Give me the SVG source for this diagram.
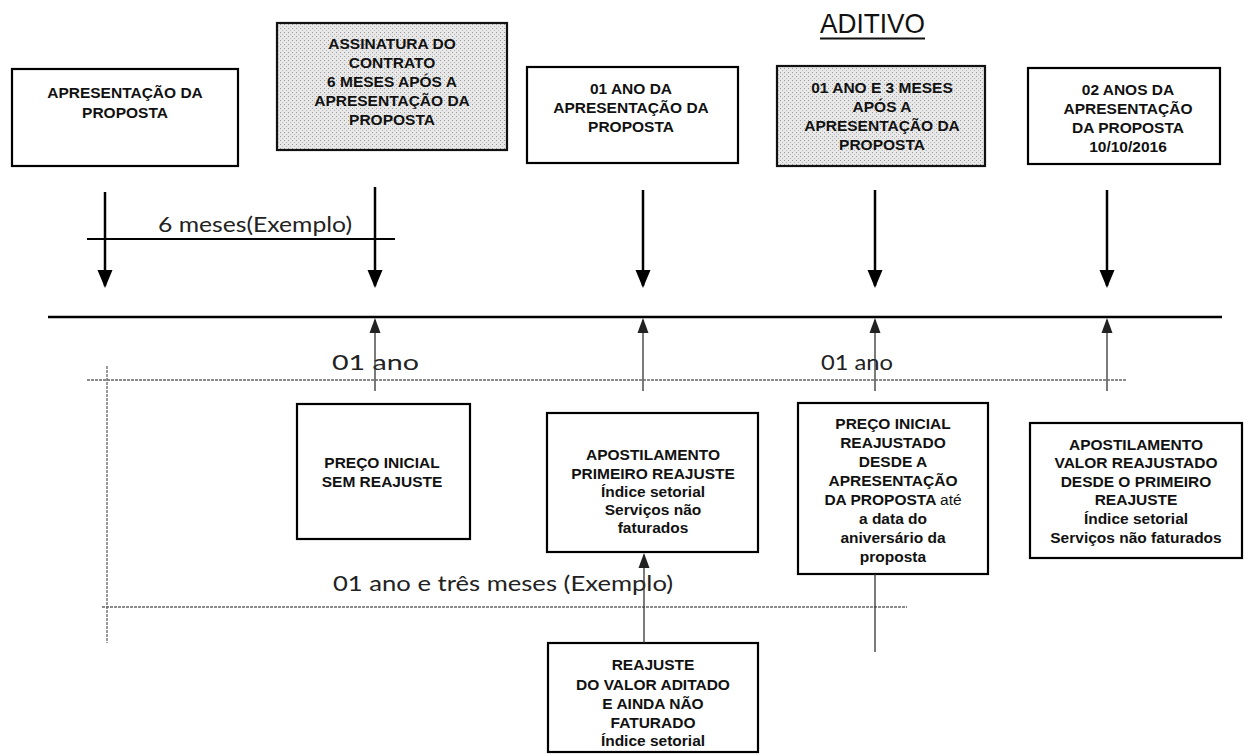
<svg xmlns="http://www.w3.org/2000/svg" width="1257" height="756" viewBox="0 0 1257 756">
<style>
.box{fill:#fff;stroke:#000;stroke-width:2.2}
.gbox{fill:url(#dots);stroke:#111;stroke-width:2.2}
.t{font-family:"Liberation Sans",Arial,sans-serif;font-size:15.5px;font-weight:bold;text-anchor:middle;fill:#111}
.n{font-weight:normal}
.lab{font-family:Lato,"Open Sans",sans-serif;font-size:21px;fill:#222}
.down{stroke:#000;stroke-width:2.5;fill:none;marker-end:url(#ahd)}
.up{stroke:#333;stroke-width:1.3;fill:none;marker-end:url(#ahu)}
.dash{stroke:#666;stroke-width:1.3;stroke-dasharray:3 1;fill:none}
.solid{stroke:#000;stroke-width:2.5;fill:none}
</style>
<defs>
<pattern id="dots" width="4" height="4" patternUnits="userSpaceOnUse">
<rect width="4" height="4" fill="#e8e8e8"/>
<rect x="0" y="0" width="1" height="1" fill="#999"/>
<rect x="2" y="2" width="1" height="1" fill="#b8b8b8"/>
</pattern>
<marker id="ahd" viewBox="0 -8 18 16" refX="16" refY="0" markerWidth="18" markerHeight="16" markerUnits="userSpaceOnUse" orient="auto">
<path d="M0,-7.5 L18,0 L0,7.5 z" fill="#000"/>
</marker>
<marker id="ahu" viewBox="0 -6 15 12" refX="13" refY="0" markerWidth="15" markerHeight="12" markerUnits="userSpaceOnUse" orient="auto">
<path d="M0,-5.5 L15,0 L0,5.5 z" fill="#222"/>
</marker>
</defs>
<rect width="1257" height="756" fill="#fff"/>

<g id="aditivo">
<text x="820" y="33" textLength="105" lengthAdjust="spacingAndGlyphs" style="font-family:'Liberation Sans',Arial,sans-serif;font-size:28px;fill:#111">ADITIVO</text>
<line x1="820" y1="38.5" x2="925" y2="38.5" stroke="#111" stroke-width="2"/>
</g>

<g id="n-apresentacao">
<rect class="box" x="12" y="69" width="226" height="97"/>
<text class="t" x="125" y="98">APRESENTAÇÃO DA</text>
<text class="t" x="125" y="118">PROPOSTA</text>
</g>

<g id="n-assinatura">
<rect class="gbox" x="277" y="23" width="230" height="127"/>
<text class="t" x="392" y="49">ASSINATURA DO</text>
<text class="t" x="392" y="68">CONTRATO</text>
<text class="t" x="392" y="87">6 MESES APÓS A</text>
<text class="t" x="392" y="106">APRESENTAÇÃO DA</text>
<text class="t" x="392" y="125">PROPOSTA</text>
</g>

<g id="n-01ano">
<rect class="box" x="527" y="67" width="211" height="96"/>
<text class="t" x="631" y="94">01 ANO DA</text>
<text class="t" x="631" y="113">APRESENTAÇÃO DA</text>
<text class="t" x="631" y="132">PROPOSTA</text>
</g>

<g id="n-01ano3m">
<rect class="gbox" x="777" y="66" width="208" height="100"/>
<text class="t" x="882" y="93">01 ANO E 3 MESES</text>
<text class="t" x="882" y="112">APÓS A</text>
<text class="t" x="882" y="131">APRESENTAÇÃO DA</text>
<text class="t" x="882" y="150">PROPOSTA</text>
</g>

<g id="n-02anos">
<rect class="box" x="1028" y="68" width="192" height="96"/>
<text class="t" x="1128" y="95">02 ANOS DA</text>
<text class="t" x="1128" y="114">APRESENTAÇÃO</text>
<text class="t" x="1128" y="133">DA PROPOSTA</text>
<text class="t" x="1128" y="152">10/10/2016</text>
</g>

<g id="n-preco-sem">
<rect class="box" x="297" y="404" width="173" height="135"/>
<text class="t" x="382" y="468">PREÇO INICIAL</text>
<text class="t" x="382" y="487">SEM REAJUSTE</text>
</g>

<g id="n-apost1">
<rect class="box" x="547" y="413" width="211" height="139"/>
<text class="t" x="653" y="460">APOSTILAMENTO</text>
<text class="t" x="653" y="479">PRIMEIRO REAJUSTE</text>
<text class="t" x="653" y="497">Índice setorial</text>
<text class="t" x="653" y="515">Serviços não</text>
<text class="t" x="653" y="533">faturados</text>
</g>

<g id="n-preco-reaj">
<rect class="box" x="798" y="403" width="190" height="171"/>
<text class="t" x="893" y="429">PREÇO INICIAL</text>
<text class="t" x="893" y="448">REAJUSTADO</text>
<text class="t" x="893" y="467">DESDE A</text>
<text class="t" x="893" y="486">APRESENTAÇÃO</text>
<text class="t" x="893" y="505">DA PROPOSTA <tspan class="n">até</tspan></text>
<text class="t" x="893" y="524">a data do</text>
<text class="t" x="893" y="543">aniversário da</text>
<text class="t" x="893" y="562">proposta</text>
</g>

<g id="n-apost2">
<rect class="box" x="1030" y="423" width="212" height="135"/>
<text class="t" x="1136" y="450">APOSTILAMENTO</text>
<text class="t" x="1136" y="468">VALOR REAJUSTADO</text>
<text class="t" x="1136" y="487">DESDE O PRIMEIRO</text>
<text class="t" x="1136" y="505">REAJUSTE</text>
<text class="t" x="1136" y="524">Índice setorial</text>
<text class="t" x="1136" y="543">Serviços não faturados</text>
</g>

<g id="n-reajuste-aditado">
<rect class="box" x="548" y="643" width="210" height="109"/>
<text class="t" x="653" y="670">REAJUSTE</text>
<text class="t" x="653" y="690">DO VALOR ADITADO</text>
<text class="t" x="653" y="709">E AINDA NÃO</text>
<text class="t" x="653" y="728">FATURADO</text>
<text class="t" x="653" y="746">Índice setorial</text>
</g>

<g id="labels">
<text class="lab" x="158" y="232" textLength="194" lengthAdjust="spacingAndGlyphs">6 meses(Exemplo)</text>
<text class="lab" x="332" y="370" textLength="87" lengthAdjust="spacingAndGlyphs">01 ano</text>
<text class="lab" x="821" y="370" textLength="72" lengthAdjust="spacingAndGlyphs">01 ano</text>
<text class="lab" x="333" y="591" textLength="340" lengthAdjust="spacingAndGlyphs">01 ano e três meses (Exemplo)</text>
</g>

<g id="connectors">
<line class="solid" x1="48" y1="317" x2="1222" y2="317"/>
<line class="solid" x1="87" y1="239" x2="395" y2="239" style="stroke-width:2"/>
<line class="down" x1="105" y1="192" x2="105" y2="286"/>
<line class="down" x1="375" y1="187" x2="375" y2="286"/>
<line class="down" x1="643" y1="190" x2="643" y2="286"/>
<line class="down" x1="875" y1="190" x2="875" y2="286"/>
<line class="down" x1="1107" y1="190" x2="1107" y2="286"/>
<line class="up" x1="375" y1="391" x2="375" y2="320"/>
<line class="up" x1="643" y1="391" x2="643" y2="320"/>
<line class="up" x1="875" y1="391" x2="875" y2="320"/>
<line class="up" x1="1107" y1="391" x2="1107" y2="320"/>
<line class="dash" x1="87" y1="380" x2="1127" y2="380"/>
<line class="dash" x1="102" y1="607" x2="907" y2="607"/>
<line class="dash" x1="107" y1="366" x2="107" y2="643"/>
<line class="up" x1="644" y1="643" x2="644" y2="555"/>
<line class="up" x1="875" y1="574" x2="875" y2="652" style="marker-end:none"/>
</g>
</svg>
